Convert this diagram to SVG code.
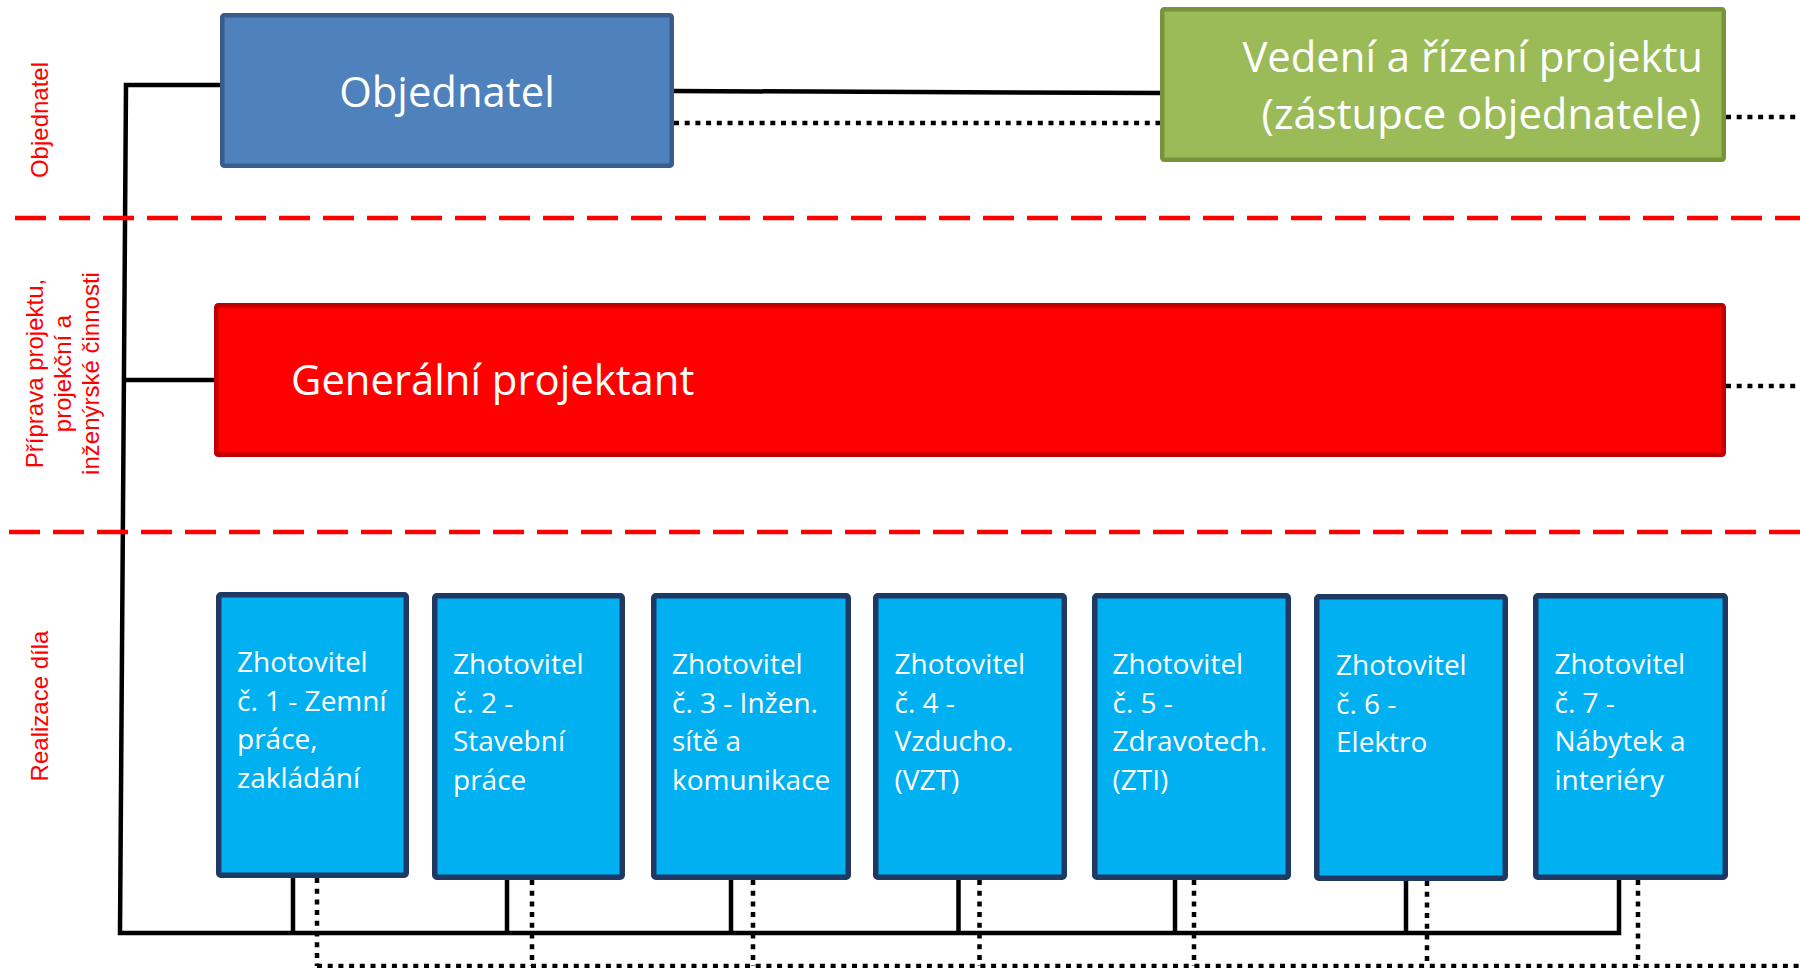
<svg xmlns="http://www.w3.org/2000/svg" width="1800" height="968" viewBox="0 0 1800 968">
<style>
.lane{font-family:"Liberation Sans",Arial,sans-serif;font-size:24px;fill:#FF0000;text-anchor:middle}
.big{font-family:"Open Sans","Noto Sans",sans-serif;font-size:41.8px;fill:#FFFFFF}
.small{font-family:"Open Sans","Noto Sans",sans-serif;font-size:28px;fill:#FFFFFF}
.zh{fill:#00B0F0;stroke:#1F3864;stroke-width:5.5}
.solid{fill:none;stroke:#000;stroke-width:4.5}
.dot{fill:none;stroke:#000;stroke-width:4.5;stroke-dasharray:5 5.7}
.sep{fill:none;stroke:#FF0000;stroke-width:4.5;stroke-dasharray:31 13}
</style>
<rect width="1800" height="968" fill="#FFFFFF"/>

<g id="lane-labels">
<text class="lane" transform="translate(48,120) rotate(-90)">Objednatel</text>
<text class="lane" transform="translate(43,373.5) rotate(-90)">Příprava projektu,</text>
<text class="lane" transform="translate(71,373.5) rotate(-90)">projekční a</text>
<text class="lane" transform="translate(99,373.5) rotate(-90)">inženýrské činnosti</text>
<text class="lane" transform="translate(48,706) rotate(-90)">Realizace díla</text>
</g>

<g id="connectors">
<path class="solid" d="M222,85 H126 L120,933 H1619 V878"/>
<path class="solid" d="M216,380 H124"/>
<path class="solid" d="M672,91 L1162,93"/>
<path class="solid" d="M293,876 V933 M507,878 V933 M731,878 V933 M958.5,878 V933 M1175,878 V933 M1406,879 V933"/>
<path class="dot" d="M674,123 H1160"/>
<path class="dot" d="M1726,117 H1800"/>
<path class="dot" d="M1726,386 H1800"/>
<path class="dot" d="M317,878 V966 M532,880 V966 M753,880 V966 M979.5,880 V966 M1194,880 V966 M1427,881 V966 M1638,880 V966"/>
<path class="dot" d="M317,966 H1800"/>
</g>

<g id="separators">
<path class="sep" d="M15,218 H1800"/>
<path class="sep" d="M9,532 H1800"/>
</g>

<g id="objednatel">
<rect x="222.25" y="15.25" width="449.5" height="150.5" rx="2" fill="#4F81BD" stroke="#385D8A" stroke-width="4.5"/>
<text class="big" x="447" y="107" text-anchor="middle">Objednatel</text>
</g>

<g id="vedeni">
<rect x="1162.25" y="9.25" width="561.5" height="150.5" rx="2" fill="#9BBB59" stroke="#77933C" stroke-width="4.5"/>
<text class="big" x="1703" y="72" text-anchor="end">Vedení a řízení projektu</text>
<text class="big" x="1701" y="129" text-anchor="end">(zástupce objednatele)</text>
</g>

<g id="generalni-projektant">
<rect x="216.25" y="305.25" width="1507.5" height="149.5" rx="2" fill="#FF0000" stroke="#C00000" stroke-width="4.5"/>
<text class="big" x="291" y="395">Generální projektant</text>
</g>

<g id="zhotovitel-1">
<rect class="zh" x="218.75" y="594.75" width="187.5" height="280.5" rx="2"/>
<text class="small"><tspan x="237" y="672">Zhotovitel</tspan><tspan x="237" y="710.5">č. 1 - Zemní</tspan><tspan x="237" y="749">práce,</tspan><tspan x="237" y="787.5">zakládání</tspan></text>
</g>
<g id="zhotovitel-2">
<rect class="zh" x="434.75" y="595.75" width="187.5" height="281.5" rx="2"/>
<text class="small"><tspan x="453" y="674">Zhotovitel</tspan><tspan x="453" y="712.5">č. 2 -</tspan><tspan x="453" y="751">Stavební</tspan><tspan x="453" y="789.5">práce</tspan></text>
</g>
<g id="zhotovitel-3">
<rect class="zh" x="653.75" y="595.75" width="194.5" height="281.5" rx="2"/>
<text class="small"><tspan x="672" y="674">Zhotovitel</tspan><tspan x="672" y="712.5">č. 3 - Inžen.</tspan><tspan x="672" y="751">sítě a</tspan><tspan x="672" y="789.5">komunikace</tspan></text>
</g>
<g id="zhotovitel-4">
<rect class="zh" x="875.75" y="595.75" width="188.5" height="281.5" rx="2"/>
<text class="small"><tspan x="894.5" y="674">Zhotovitel</tspan><tspan x="894.5" y="712.5">č. 4 -</tspan><tspan x="894.5" y="751">Vzducho.</tspan><tspan x="894.5" y="789.5">(VZT)</tspan></text>
</g>
<g id="zhotovitel-5">
<rect class="zh" x="1094.75" y="595.75" width="193.5" height="281.5" rx="2"/>
<text class="small"><tspan x="1112.5" y="674">Zhotovitel</tspan><tspan x="1112.5" y="712.5">č. 5 -</tspan><tspan x="1112.5" y="751">Zdravotech.</tspan><tspan x="1112.5" y="789.5">(ZTI)</tspan></text>
</g>
<g id="zhotovitel-6">
<rect class="zh" x="1316.75" y="596.75" width="188.5" height="281.5" rx="2"/>
<text class="small"><tspan x="1336" y="675">Zhotovitel</tspan><tspan x="1336" y="713.5">č. 6 -</tspan><tspan x="1336" y="752">Elektro</tspan></text>
</g>
<g id="zhotovitel-7">
<rect class="zh" x="1535.75" y="595.75" width="189.5" height="281.5" rx="2"/>
<text class="small"><tspan x="1554.5" y="674">Zhotovitel</tspan><tspan x="1554.5" y="712.5">č. 7 -</tspan><tspan x="1554.5" y="751">Nábytek a</tspan><tspan x="1554.5" y="789.5">interiéry</tspan></text>
</g>
</svg>
